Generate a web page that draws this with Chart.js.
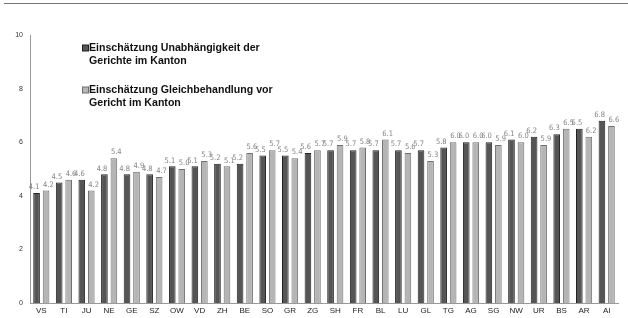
<!DOCTYPE html>
<html>
<head>
<meta charset="utf-8">
<script src="https://cdn.jsdelivr.net/npm/chart.js@4"></script>
<style>
  html, body { margin: 0; padding: 0; background: #fff; }
  #wrap { position: relative; width: 628px; height: 318px; }
  #topline { position: absolute; left: 4px; right: 0; top: 3px; border-top: 1px solid #777; }
  canvas { position: absolute; left: 0; top: 0; }
</style>
</head>
<body>
<div id="wrap">
  <div id="topline"></div>
  <canvas id="chart" width="628" height="318"></canvas>
</div>
<script>
const cantons = ['VS','TI','JU','NE','GE','SZ','OW','VD','ZH','BE','SO','GR','ZG','SH','FR','BL','LU','GL','TG','AG','SG','NW','UR','BS','AR','AI'];
const independence = [4.1,4.5,4.6,4.8,4.8,4.8,5.1,5.1,5.2,5.2,5.5,5.5,5.6,5.7,5.7,5.7,5.7,5.7,5.8,6.0,6.0,6.1,6.2,6.3,6.5,6.8];
const equalTreatment = [4.2,4.6,4.2,5.4,4.9,4.7,5.0,5.3,5.1,5.6,5.7,5.4,5.7,5.9,5.8,6.1,5.6,5.3,6.0,6.0,5.9,6.0,5.9,6.5,6.2,6.6];
const yTicks = [0, 2, 4, 6, 8, 10];
const legendLabels = [
  ['Einschätzung Unabhängigkeit der', 'Gerichte im Kanton'],
  ['Einschätzung Gleichbehandlung vor', 'Gericht im Kanton']
];

const colors = {
  dark: '#555555', darkBorder: '#222222',
  light: '#b5b5b5', lightBorder: '#6f6f6f'
};

// value labels above each bar
const valueLabels = {
  id: 'valueLabels',
  afterDatasetsDraw(chart) {
    const ctx = chart.ctx;
    ctx.save();
    ctx.font = '7.5px "DejaVu Sans Condensed", "Liberation Sans Narrow", sans-serif';
    ctx.fillStyle = '#858585';
    ctx.textBaseline = 'bottom';
    chart.data.datasets.forEach((ds, di) => {
      chart.getDatasetMeta(di).data.forEach((bar, i) => {
        ctx.textAlign = di === 0 ? 'right' : 'left';
        const x = di === 0 ? bar.x + 3 : bar.x - 3;
        ctx.fillText(ds.data[i].toFixed(1), x, bar.y - 2);
      });
    });
    ctx.restore();
  }
};

// legend drawn inside the plot, upper left
const boxLegend = {
  id: 'boxLegend',
  afterDraw(chart) {
    const ctx = chart.ctx;
    ctx.save();
    ctx.font = 'bold 10.6px "Liberation Sans", Arial, sans-serif';
    ctx.textBaseline = 'middle';
    ctx.textAlign = 'left';
    const startY = [48, 90];
    legendLabels.forEach((lines, i) => {
      const ds = chart.data.datasets[i];
      ctx.fillStyle = ds.backgroundColor;
      ctx.strokeStyle = ds.borderColor;
      ctx.lineWidth = 1;
      ctx.fillRect(82.5, startY[i] - 3, 6, 6);
      ctx.strokeRect(82.5, startY[i] - 3, 6, 6);
      ctx.fillStyle = '#111';
      lines.forEach((t, k) => ctx.fillText(t, 89, startY[i] + k * 13));
    });
    ctx.restore();
  }
};

new Chart(document.getElementById('chart'), {
  type: 'bar',
  data: {
    labels: cantons,
    datasets: [
      {
        label: legendLabels[0].join(' '),
        data: independence,
        backgroundColor: colors.dark,
        borderColor: colors.darkBorder,
        borderWidth: 1
      },
      {
        label: legendLabels[1].join(' '),
        data: equalTreatment,
        backgroundColor: colors.light,
        borderColor: colors.lightBorder,
        borderWidth: 1
      }
    ]
  },
  options: {
    responsive: false,
    animation: false,
    categoryPercentage: 0.84,
    barPercentage: 0.7,
    layout: { padding: { top: 35, right: 10, bottom: 0, left: 0 } },
    plugins: {
      legend: { display: false },
      tooltip: { enabled: false }
    },
    scales: {
      x: {
        grid: { display: false, drawTicks: false },
        border: { color: '#999', width: 1 },
        ticks: {
          color: '#222',
          padding: 3,
          autoSkip: false,
          maxRotation: 0,
          font: { family: '"Liberation Sans", Arial, sans-serif', size: 8 }
        },
        afterFit(scale) { scale.height = 15; }
      },
      y: {
        min: 0,
        max: 10,
        afterBuildTicks(scale) { scale.ticks = yTicks.map(v => ({ value: v })); },
        grid: { display: false, drawTicks: false },
        border: { color: '#999', width: 1 },
        ticks: {
          color: '#333',
          padding: 7,
          font: { family: '"Liberation Sans", Arial, sans-serif', size: 7 }
        },
        afterFit(scale) { scale.width = 30; }
      }
    }
  },
  plugins: [valueLabels, boxLegend]
});
</script>
</body>
</html>
